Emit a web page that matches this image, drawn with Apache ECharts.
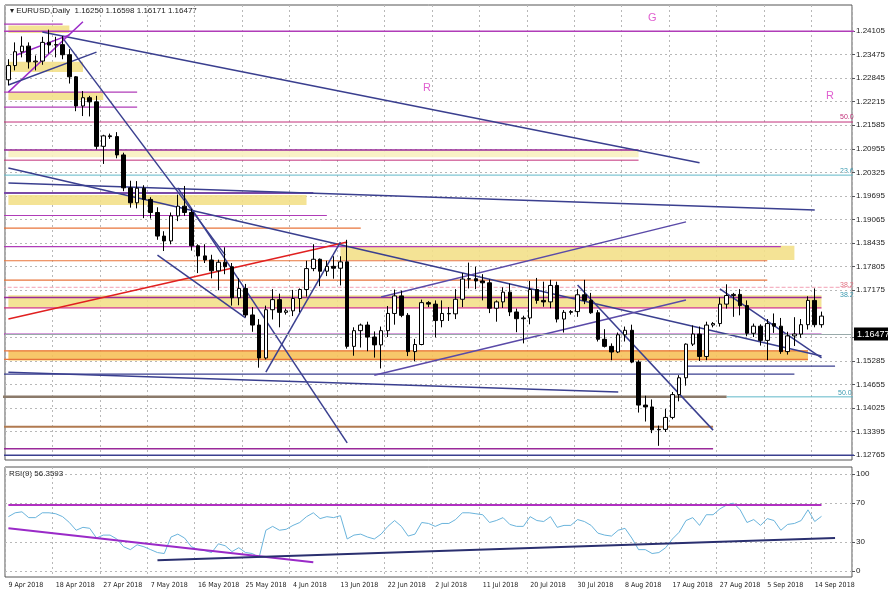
<!DOCTYPE html>
<html><head><meta charset="utf-8">
<script src="https://cdn.jsdelivr.net/npm/echarts@6/dist/echarts.min.js"></script>
<style>html,body{margin:0;padding:0;background:#fff}#c{width:888px;height:593px}</style>
</head><body><div id="c"></div>
<script>
const dates = ["9 Apr 2018","10 Apr 2018","11 Apr 2018","12 Apr 2018","13 Apr 2018","16 Apr 2018","17 Apr 2018","18 Apr 2018","19 Apr 2018","20 Apr 2018","23 Apr 2018","24 Apr 2018","25 Apr 2018","26 Apr 2018","27 Apr 2018","29 Apr 2018","30 Apr 2018",
"1 May 2018","2 May 2018","3 May 2018","4 May 2018","7 May 2018","8 May 2018","9 May 2018","10 May 2018","11 May 2018","14 May 2018","15 May 2018","16 May 2018","17 May 2018","18 May 2018","21 May 2018","22 May 2018","23 May 2018","24 May 2018","25 May 2018","28 May 2018","29 May 2018","30 May 2018","31 May 2018",
"1 Jun 2018","3 Jun 2018","4 Jun 2018","5 Jun 2018","6 Jun 2018","7 Jun 2018","8 Jun 2018","11 Jun 2018","12 Jun 2018","13 Jun 2018","14 Jun 2018","15 Jun 2018","18 Jun 2018","19 Jun 2018","20 Jun 2018","21 Jun 2018","22 Jun 2018","25 Jun 2018","26 Jun 2018","27 Jun 2018","28 Jun 2018","29 Jun 2018",
"1 Jul 2018","2 Jul 2018","3 Jul 2018","4 Jul 2018","5 Jul 2018","6 Jul 2018","9 Jul 2018","10 Jul 2018","11 Jul 2018","12 Jul 2018","13 Jul 2018","16 Jul 2018","17 Jul 2018","18 Jul 2018","19 Jul 2018","20 Jul 2018","23 Jul 2018","24 Jul 2018","25 Jul 2018","26 Jul 2018","27 Jul 2018","29 Jul 2018","30 Jul 2018","31 Jul 2018",
"1 Aug 2018","2 Aug 2018","3 Aug 2018","6 Aug 2018","7 Aug 2018","8 Aug 2018","9 Aug 2018","10 Aug 2018","13 Aug 2018","14 Aug 2018","15 Aug 2018","16 Aug 2018","17 Aug 2018","20 Aug 2018","21 Aug 2018","22 Aug 2018","23 Aug 2018","24 Aug 2018","26 Aug 2018","27 Aug 2018","28 Aug 2018","29 Aug 2018","30 Aug 2018","31 Aug 2018",
"3 Sep 2018","4 Sep 2018","5 Sep 2018","6 Sep 2018","7 Sep 2018","10 Sep 2018","11 Sep 2018","12 Sep 2018","13 Sep 2018","14 Sep 2018","17 Sep 2018","","","",""];
const tickLabels = ["9 Apr 2018","18 Apr 2018","27 Apr 2018","7 May 2018","16 May 2018","25 May 2018","4 Jun 2018","13 Jun 2018","22 Jun 2018","2 Jul 2018","11 Jul 2018","20 Jul 2018","30 Jul 2018","8 Aug 2018","17 Aug 2018","27 Aug 2018","5 Sep 2018","14 Sep 2018"];
// [open, close, low, high]
const ohlc = [
[1.2280,1.2318,1.2265,1.2335],[1.2318,1.2355,1.2305,1.2380],[1.2355,1.2370,1.2340,1.2396],[1.2370,1.2328,1.2310,1.2380],[1.2328,1.2330,1.2305,1.2345],[1.2330,1.2380,1.2320,1.2395],[1.2380,1.2373,1.2350,1.2414],[1.2373,1.2374,1.2340,1.2395],[1.2374,1.2347,1.2335,1.2397],[1.2347,1.2288,1.2270,1.2362],[1.2288,1.2210,1.2196,1.2290],[1.2210,1.2232,1.2183,1.2250],[1.2232,1.2221,1.2182,1.2237],[1.2221,1.2102,1.2094,1.2237],[1.2102,1.2130,1.2055,1.2133],[1.2130,1.2128,1.2122,1.2136],[1.2128,1.2079,1.2070,1.2140],
[1.2079,1.1991,1.1982,1.2085],[1.1991,1.1951,1.1938,1.2010],[1.1951,1.1990,1.1936,1.2009],[1.1990,1.1960,1.1910,1.1998],[1.1960,1.1925,1.1909,1.1966],[1.1925,1.1862,1.1852,1.1939],[1.1862,1.1849,1.1822,1.1875],[1.1849,1.1916,1.1840,1.1925],[1.1916,1.1942,1.1902,1.1973],[1.1942,1.1925,1.1916,1.1996],[1.1925,1.1836,1.1823,1.1935],[1.1836,1.1809,1.1763,1.1840],[1.1809,1.1798,1.1790,1.1840],[1.1798,1.1769,1.1749,1.1812],[1.1769,1.1792,1.1717,1.1799],[1.1792,1.1780,1.1760,1.1832],[1.1780,1.1697,1.1676,1.1790],[1.1697,1.1722,1.1677,1.1749],[1.1722,1.1651,1.1645,1.1734],[1.1651,1.1624,1.1606,1.1672],[1.1624,1.1536,1.1510,1.1640],[1.1536,1.1665,1.1532,1.1676],[1.1665,1.1692,1.1639,1.1720],
[1.1692,1.1658,1.1618,1.1708],[1.1658,1.1662,1.1652,1.1668],[1.1662,1.1695,1.1648,1.1718],[1.1695,1.1719,1.1658,1.1722],[1.1719,1.1775,1.1700,1.1796],[1.1775,1.1800,1.1768,1.1840],[1.1800,1.1768,1.1728,1.1802],[1.1768,1.1781,1.1755,1.1796],[1.1781,1.1776,1.1748,1.1808],[1.1776,1.1793,1.1730,1.1808],[1.1793,1.1567,1.1561,1.1852],[1.1567,1.1609,1.1542,1.1618],[1.1609,1.1624,1.1564,1.1628],[1.1624,1.1592,1.1554,1.1633],[1.1592,1.1571,1.1537,1.1607],[1.1571,1.1609,1.1508,1.1620],[1.1609,1.1655,1.1592,1.1675],[1.1655,1.1702,1.1625,1.1719],[1.1702,1.1650,1.1645,1.1716],[1.1650,1.1553,1.1541,1.1656],[1.1553,1.1572,1.1527,1.1587],[1.1572,1.1684,1.1570,1.1692],
[1.1684,1.1680,1.1672,1.1688],[1.1680,1.1636,1.1591,1.1690],[1.1636,1.1655,1.1618,1.1690],[1.1655,1.1654,1.1635,1.1672],[1.1654,1.1693,1.1640,1.1720],[1.1693,1.1747,1.1672,1.1763],[1.1747,1.1748,1.1722,1.1791],[1.1748,1.1742,1.1720,1.1780],[1.1742,1.1737,1.1690,1.1760],[1.1737,1.1669,1.1656,1.1746],[1.1669,1.1686,1.1633,1.1690],[1.1686,1.1712,1.1670,1.1725],[1.1712,1.1659,1.1648,1.1735],[1.1659,1.1641,1.1605,1.1668],[1.1641,1.1643,1.1575,1.1649],[1.1643,1.1719,1.1626,1.1742],[1.1719,1.1690,1.1681,1.1750],[1.1690,1.1686,1.1673,1.1740],[1.1686,1.1730,1.1669,1.1745],[1.1730,1.1640,1.1631,1.1740],[1.1640,1.1658,1.1604,1.1664],[1.1658,1.1660,1.1652,1.1664],[1.1660,1.1705,1.1646,1.1720],[1.1705,1.1690,1.1680,1.1745],
[1.1690,1.1657,1.1654,1.1710],[1.1657,1.1586,1.1580,1.1664],[1.1586,1.1567,1.1564,1.1613],[1.1567,1.1552,1.1530,1.1575],[1.1552,1.1598,1.1549,1.1604],[1.1598,1.1610,1.1580,1.1620],[1.1610,1.1525,1.1522,1.1625],[1.1525,1.1410,1.1390,1.1530],[1.1410,1.1405,1.1366,1.1435],[1.1405,1.1344,1.1335,1.1425],[1.1344,1.1345,1.1301,1.1355],[1.1345,1.1377,1.1338,1.1400],[1.1377,1.1438,1.1372,1.1445],[1.1438,1.1483,1.1420,1.1490],[1.1483,1.1573,1.1462,1.1575],[1.1573,1.1600,1.1568,1.1623],[1.1600,1.1540,1.1528,1.1620],[1.1540,1.1624,1.1530,1.1633],[1.1624,1.1628,1.1618,1.1632],[1.1628,1.1680,1.1620,1.1698],[1.1680,1.1703,1.1668,1.1733],[1.1703,1.1706,1.1646,1.1710],[1.1706,1.1676,1.1650,1.1720],[1.1676,1.1602,1.1594,1.1690],
[1.1602,1.1621,1.1592,1.1628],[1.1621,1.1583,1.1569,1.1626],[1.1583,1.1628,1.1530,1.1640],[1.1628,1.1621,1.1603,1.1655],[1.1621,1.1553,1.1547,1.1643],[1.1553,1.1595,1.1545,1.1606],[1.1595,1.1600,1.1568,1.1645],[1.1600,1.1625,1.1590,1.1640],[1.1625,1.1690,1.1612,1.1701],[1.1690,1.1625,1.1618,1.1722],[1.1625,1.1648,1.1617,1.1660]];
const rsi = [56,60,61,55,55,60,60,59,56,50,42,45,44,34,37,37,33,
25,22,27,25,22,19,18,35,38,34,25,22,21,19,28,26,20,24,19,18,14,42,46,
42,43,47,50,56,60,54,56,55,57,33,37,38,35,33,38,46,52,46,36,38,50,
49,46,49,49,53,60,60,59,58,50,52,55,48,46,46,56,52,51,56,45,47,47,53,51,
47,39,37,36,42,44,34,22,22,18,19,24,33,40,52,55,47,58,58,64,68,70,63,50,
53,47,54,52,42,48,49,52,63,51,56.36];
const priceTicks = [1.24105,1.23475,1.22845,1.22215,1.21585,1.20955,1.20325,1.19695,1.19065,1.18435,1.17805,1.17175,1.15915,1.15285,1.14655,1.14025,1.13395,1.12765];
const rsiTicks = [0,30,70,100];
const lastPrice = 1.16477;
// horizontal levels: [price, fromIdx, toIdx, color, width, type]
const levels = [
[1.2410,-1,125,'#b03cb8',1.5,'solid'],[1.2429,-1,8.2,'#b03cb8',1.2,'solid'],[1.2247,-1,18.6,'#b03cb8',1.2,'solid'],[1.2207,-1,19.4,'#b03cb8',1.2,'solid'],
[1.2167,-1,125,'#c2307a',1,'solid'],[1.2092,-1,93.2,'#9a2a9a',1.5,'solid'],[1.2065,-1,93.2,'#c2307a',1,'solid'],[1.2025,-1,125,'#5fb7c8',1,'solid'],
[1.1977,-1,44.5,'#7a4aa8',2,'solid'],[1.1917,-1,46.7,'#b03cb8',1.2,'solid'],[1.1883,-1,51.8,'#e8743b',1.2,'solid'],[1.1834,-1,113.8,'#b03cb8',1.2,'solid'],
[1.1796,-1,112.2,'#e8743b',1.2,'solid'],[1.1744,-1,112.2,'#e8743b',1.2,'solid'],[1.1725,-1,125,'#f2a0b4',1,'dashed'],[1.1698,-1,119.6,'#9a2a9a',1.5,'solid'],
[1.1670,-1,119.6,'#d0307a',1.2,'solid'],[1.1600,-1,119.6,'#b03cb8',1.2,'solid'],[1.1555,-1,118,'#e8743b',1.2,'solid'],[1.1532,-1,118,'#e8743b',1.2,'solid'],
[1.1514,100.1,122.2,'#3a3f8f',1.2,'solid'],[1.1493,-1,116.4,'#3a3f8f',1.2,'solid'],[1.1432,-1,106.4,'#8b7a6a',2.5,'solid'],[1.1432,106.4,125,'#5fb7c8',1,'solid'],
[1.1352,-1,104.3,'#b07a50',2,'solid'],[1.1293,-1,104.3,'#9a2a9a',1.5,'solid'],[1.1276,-1,125,'#3a3f8f',1.5,'solid']];
// bands: [low, high, fromIdx, toIdx, color]
const bands = [
[1.2405,1.2425,0,8.6,'#f3e08a'],[1.2301,1.2328,0,10.5,'#f3e08a'],[1.2226,1.2247,0,14.2,'#f3e08a'],[1.2073,1.2092,0,92.8,'#f8efc0'],
[1.1945,1.1972,0,44.4,'#f3e08a'],[1.1798,1.1836,48.9,116.4,'#f3e08a'],[1.1672,1.1704,0,119.7,'#f3e08a'],[1.1529,1.1556,0,117.9,'#f6c15a']];
// trendlines: [[idx,price],[idx,price],color]
const trends = [
[[4.65,1.2408],[102.0,1.2058],'#3a3f8f'],[[-0.5,1.2044],[120.0,1.1541],'#3a3f8f'],[[-0.5,1.2004],[119.4,1.1932],'#3a3f8f'],
[[-0.5,1.1498],[89.7,1.1445],'#3a3f8f'],[[-0.5,1.1640],[49.7,1.1846],'#e02020'],[[8.0,1.2392],[32.0,1.1811],'#3a3f8f'],
[[25.3,1.1991],[50.0,1.1309],'#3a3f8f'],[[22.1,1.1811],[35.1,1.1643],'#3a3f8f'],[[37.9,1.1498],[49.2,1.1846],'#3a3f8f'],
[[54.4,1.1490],[100.1,1.1691],'#5a4aa8'],[[54.5,1.1699],[100.2,1.1900],'#5a4aa8'],[[83.8,1.1731],[103.8,1.1343],'#3a3f8f'],
[[104.7,1.1721],[120.1,1.1536],'#3a3f8f'],[[-0.5,1.2247],[10.5,1.2435],'#9a2ac8'],[[-0.5,1.2266],[12.75,1.2354],'#3a3f8f'],[[1.29,1.2345],[8.65,1.2400],'#9a2ac8']];
const rsiLines = [[[-0.5,68],[119.7,68],'#b030c0'],[[-0.5,44],[44.5,9],'#9a2ac8'],[[22.3,11],[121.9,34],'#2a2f6f']];

const series = [];
series.push({type:'candlestick',xAxisIndex:0,yAxisIndex:0,data:ohlc,barWidth:4,z:5,
  itemStyle:{color:'#ffffff',color0:'#000000',borderColor:'#000000',borderColor0:'#000000',borderWidth:1},
  markArea:{silent:true,z:1,data:bands.map(b=>[{coord:[b[2],b[1]],itemStyle:{color:b[4],opacity:0.9}},{coord:[b[3],b[0]]}])},
  markLine:{silent:true,symbol:'none',data:[{yAxis:lastPrice,lineStyle:{color:'#9aa',width:1,type:'solid'},
    label:{position:'end',formatter:'1.16477',backgroundColor:'#000',color:'#fff',fontSize:9,padding:[2,3],distance:2}}]}});
levels.forEach(l=>series.push({type:'line',xAxisIndex:0,yAxisIndex:0,data:[[l[1],l[0]],[l[2],l[0]]],symbol:'none',silent:true,z:2,
  lineStyle:{color:l[3],width:l[4],type:l[5]}}));
trends.forEach(t=>series.push({type:'line',xAxisIndex:0,yAxisIndex:0,data:[t[0],t[1]],symbol:'none',silent:true,z:3,lineStyle:{color:t[2],width:1.5}}));
series.push({type:'line',xAxisIndex:1,yAxisIndex:1,data:rsi,symbol:'none',lineStyle:{color:'#6ab4dc',width:1}});
rsiLines.forEach(t=>series.push({type:'line',xAxisIndex:1,yAxisIndex:1,data:[t[0],t[1]],symbol:'none',silent:true,lineStyle:{color:t[2],width:2}}));

const grid = {splitLine:{show:true,interval:6,lineStyle:{color:'#b8b8b8',type:[2,3]}}};
const chart = echarts.init(document.getElementById('c'),null,{renderer:'canvas'});
chart.setOption({
  animation:false,
  backgroundColor:'#fff',
  grid:[{left:5,right:36,top:5,height:455,show:true,borderColor:'#555',borderWidth:1},
        {left:5,right:36,top:467,height:110,show:true,borderColor:'#555',borderWidth:1}],
  xAxis:[{type:'category',gridIndex:0,data:dates,axisLabel:{show:false},axisTick:{show:false},axisLine:{show:false},...grid},
         {type:'category',gridIndex:1,data:dates,axisTick:{show:false},axisLine:{show:false},...grid,
          axisLabel:{interval:6,fontSize:7,color:'#222',margin:5,align:'left',fontFamily:'DejaVu Sans Condensed',
            formatter:(v,i)=>tickLabels[Math.round(i/7)]||''}}],
  yAxis:[{type:'value',gridIndex:0,position:'right',min:1.12631,max:1.24800,axisLine:{show:false},
          axisTick:{show:true,customValues:priceTicks,length:3},
          axisLabel:{customValues:priceTicks,fontSize:8,color:'#222',formatter:v=>v.toFixed(5),margin:4},
          splitLine:{show:true,lineStyle:{color:'#b8b8b8',type:[2,3]}}},
         {type:'value',gridIndex:1,position:'right',min:-6.2,max:107.2,axisLine:{show:false},
          axisTick:{show:true,customValues:rsiTicks,length:3},
          axisLabel:{customValues:rsiTicks,fontSize:8,color:'#222',margin:4},
          splitLine:{show:true,lineStyle:{color:'#b8b8b8',type:[2,3]}}}],
  graphic:[
    {type:'text',left:10,top:7,style:{text:'▾ EURUSD,Daily  1.16250 1.16598 1.16171 1.16477',fontSize:8,fill:'#222'}},
    {type:'text',left:9,top:470,style:{text:'RSI(9) 56.3593',fontSize:8,fill:'#222'}},
    {type:'text',left:423,top:82,style:{text:'R',fontSize:11,fill:'#e060d0'}},
    {type:'text',left:648,top:12,style:{text:'G',fontSize:11,fill:'#e060d0'}},
    {type:'text',left:826,top:90,style:{text:'R',fontSize:11,fill:'#e060d0'}},
    {type:'text',left:840,top:114,style:{text:'50.0',fontSize:7,fill:'#c2307a'}},
    {type:'text',left:840,top:168,style:{text:'23.6',fontSize:7,fill:'#3a9ab0'}},
    {type:'text',left:840,top:282,style:{text:'38.2',fontSize:7,fill:'#e07080'}},
    {type:'text',left:840,top:292,style:{text:'38.2',fontSize:7,fill:'#3a9ab0'}},
    {type:'text',left:838,top:390,style:{text:'50.0',fontSize:7,fill:'#3a9ab0'}}
  ],
  series
});
</script></body></html>
